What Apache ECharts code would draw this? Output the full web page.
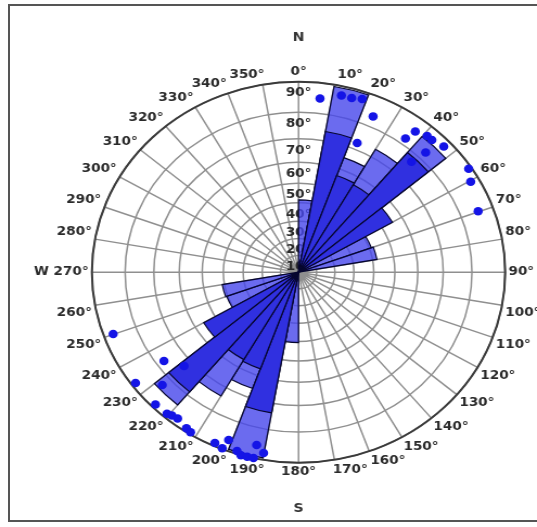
<!DOCTYPE html>
<html><head><meta charset="utf-8">
<script src="https://cdn.jsdelivr.net/npm/echarts@6/dist/echarts.min.js"></script>
<style>
html,body{margin:0;padding:0;background:#fff;overflow:hidden;width:537px;height:527px;}
#chart{position:absolute;left:0;top:0;width:495px;height:527px;transform:scaleX(1.0848);transform-origin:0 0;}
#frame{position:absolute;left:8px;top:4px;width:600px;height:518px;border:2px solid #555;border-right:none;box-sizing:border-box;pointer-events:none;}
</style></head>
<body><div id="chart"></div><div id="frame"></div>
<script>
// sector start angles (degrees, clockwise from North)
const sectorStarts = [0,10,20,30,40,50,60,70,80,90,100,110,120,130,140,150,160,170,
                      180,190,200,210,220,230,240,250,260,270,280,290,300,310,320,330,340,350];
// outer (light) bar length, fraction of net radius
const totalLen = [0.38,0.99,0.64,0.745,0.93,null,0.375,0.385,null,null,null,null,null,null,null,null,null,null,
                  0.37,0.99,0.65,0.75,0.91,null,0.37,0.375,null,null,null,null,null,null,null,null,null,null];
// inner (dark) bar length
const darkLen  = [null,0.75,0.54,0.53,0.82,0.525,null,null,null,null,null,null,null,null,null,null,null,null,
                  null,0.75,0.54,0.53,0.82,0.53,null,null,null,null,null,null,null,null,null,null,null,null];
// dip rings of the net (degrees)
const ringDeg = [10,20,30,40,50,60,70,80,90];
// plotted poles: azimuth (deg) and radial position (fraction of net radius)
const dotAngle  = [6.5,12.6,15.7,18.7,23.8,22.7,36.4,37.4,41.0,42.9,46.8,44.4,43.3,56.6,60.3,69.8,
                   250.1,234.4,228.4,233.6,228.1,224.9,220.6,219.2,217.3,213.5,211.9,204.3,201.8,201.0,197.6,196.2,194.4,192.6,192.6,190.1];
const dotRadius = [0.918,0.951,0.950,0.960,0.894,0.735,0.872,0.930,0.948,0.948,0.964,0.879,0.797,0.986,0.959,0.926,
                   0.954,0.801,0.741,0.980,0.886,0.981,0.978,0.970,0.966,0.983,0.989,0.984,0.995,0.944,0.985,1.0,1.0,1.0,0.930,0.964];

// stereographic (Wulff) ring positions
const ringR = ringDeg.map(d => Math.tan(d * Math.PI / 360));

const chart = echarts.init(document.getElementById('chart'), null, {renderer:'canvas'});
const C = [275.2, 272.2], R = 190.5;
const font = {color:'#2a2a2a', fontSize:12.5, fontWeight:'bold', fontFamily:'DejaVu Sans'};
// label alignment tweaks near the compass axes (match left/right, top/bottom anchoring)
const labelShift = {10:'l', 170:'l', 190:'r', 350:'r', 80:'b', 280:'b', 100:'t', 260:'t'};
chart.setOption({
  animation:false,
  polar:[{center:C, radius:R},{center:C, radius:R}],
  angleAxis:[
    {polarIndex:0, type:'category', data:sectorStarts, startAngle:90, clockwise:true, boundaryGap:true,
     axisLine:{show:false}, axisTick:{show:false}, axisLabel:{show:false}, splitLine:{show:false}},
    {polarIndex:1, type:'value', min:0, max:360, interval:10, startAngle:90, clockwise:true,
     axisLine:{show:true, lineStyle:{color:'#3a3a3a', width:2}},
     axisTick:{show:false},
     axisLabel:Object.assign({margin:3,
       formatter:v => { if (v===360) return ''; const s = v===270 ? 'W 270°' : v+'°'; const k = labelShift[v]; return k ? '{'+k+'|'+s+'}' : s; },
       rich:{l:{padding:[0,0,0,28]}, r:{padding:[0,28,0,0]}, b:{padding:[0,0,14,0]}, t:{padding:[14,0,0,0]}}}, font),
     splitLine:{show:true, lineStyle:{color:'#8f8f8f', width:1.5}}}
  ],
  radiusAxis:[
    {polarIndex:0, type:'value', min:0, max:1,
     axisLine:{show:false}, axisTick:{show:false}, axisLabel:{show:false}, splitLine:{show:false}},
    {polarIndex:1, type:'value', min:0, max:1,
     axisLine:{show:false},
     axisTick:{show:false, customValues:ringR},
     axisLabel:Object.assign({customValues:ringR, margin:0, align:'center', verticalAlign:'top', padding:[5,0,0,0],
       formatter:v => { let best=0; ringR.forEach((r,i)=>{ if(Math.abs(r-v)<Math.abs(ringR[best]-v)) best=i; }); return ringDeg[best]+'°'; }}, font),
     splitLine:{show:true, lineStyle:{color:'#8f8f8f', width:1.5}}}
  ],
  series:[
    {type:'bar', coordinateSystem:'polar', polarIndex:0, data:totalLen, barGap:'-100%', barCategoryGap:'0%',
     itemStyle:{color:'rgba(70,70,235,0.8)', borderColor:'#06062e', borderWidth:1.2}, z:2},
    {type:'bar', coordinateSystem:'polar', polarIndex:0, data:darkLen, barGap:'-100%', barCategoryGap:'0%',
     itemStyle:{color:'#3030e0', borderColor:'#06062e', borderWidth:1.2}, z:3},
    {type:'scatter', coordinateSystem:'polar', polarIndex:1, symbolSize:8.5,
     data:dotAngle.map((a,i)=>[dotRadius[i], a]), itemStyle:{color:'#1414e6', opacity:1}, z:5}
  ],
  graphic:[
    {type:'text', x:275.2, y:38, style:{text:'N', fill:'#333', font:'bold 13px DejaVu Sans', align:'center', verticalAlign:'middle'}},
    {type:'text', x:275.2, y:509, style:{text:'S', fill:'#333', font:'bold 13px DejaVu Sans', align:'center', verticalAlign:'middle'}}
  ]
});
</script></body></html>
